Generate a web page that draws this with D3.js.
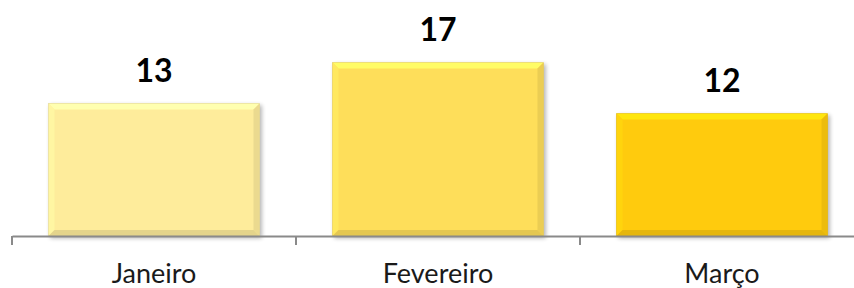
<!DOCTYPE html>
<html><head><meta charset="utf-8">
<script src="https://cdn.jsdelivr.net/npm/d3@7"></script>
<style>html,body{margin:0;padding:0;background:#fff;}svg{display:block;}</style>
</head><body>
<svg id="chart" width="854" height="288"></svg>
<script>
const categories = ["Janeiro", "Fevereiro", "Março"];
const values = [13, 17, 12];
const barColors = ["#FEEC9B", "#FEDE5A", "#FFCB0A"];

const svg = d3.select("#chart");
const baseY = 236;
const x = d3.scaleBand().domain(categories).range([12, 864]).paddingInner(0.257).paddingOuter(0.1285);
const y = d3.scaleLinear().domain([0, 20]).range([baseY, 32]);

const defs = svg.append("defs");
const f = defs.append("filter").attr("id", "shadow").attr("x", "-10%").attr("y", "-10%").attr("width", "120%").attr("height", "120%");
f.append("feGaussianBlur").attr("in", "SourceAlpha").attr("stdDeviation", 2);
f.append("feOffset").attr("dx", 2).attr("dy", 2).attr("result", "ob");
f.append("feComponentTransfer").append("feFuncA").attr("type", "linear").attr("slope", 0.3);
const m = f.append("feMerge");
m.append("feMergeNode");
m.append("feMergeNode").attr("in", "SourceGraphic");

const bev = 6;
const g = svg.append("g");
categories.forEach((c, i) => {
  const x0 = x(c), x1 = x(c) + x.bandwidth(), y0 = y(values[i]), y1 = y(0);
  const base = d3.color(barColors[i]);
  const bg = g.append("g").attr("filter", "url(#shadow)");
  bg.append("rect").attr("x", x0).attr("y", y0).attr("width", x1 - x0).attr("height", y1 - y0).attr("fill", base);
  const faces = [
    {pts: [[x0,y0],[x1,y0],[x1-bev,y0+bev],[x0+bev,y0+bev]], col: base.brighter(0.35)},
    {pts: [[x0,y0],[x0+bev,y0+bev],[x0+bev,y1-bev],[x0,y1]], col: base.brighter(0.12)},
    {pts: [[x1,y0],[x1,y1],[x1-bev,y1-bev],[x1-bev,y0+bev]], col: base.darker(0.22)},
    {pts: [[x0,y1],[x1,y1],[x1-bev,y1-bev],[x0+bev,y1-bev]], col: base.darker(0.3)}
  ];
  faces.forEach(fc => bg.append("polygon").attr("points", fc.pts.map(p => p.join(",")).join(" ")).attr("fill", fc.col));
  bg.append("rect").attr("x", x0).attr("y", y0).attr("width", x1 - x0).attr("height", y1 - y0).attr("fill", "none").attr("stroke", base.darker(0.6)).attr("stroke-width", 0.6).attr("stroke-opacity", 0.5);
});

// axis
const axisG = svg.append("g").attr("transform", `translate(0,${baseY})`);
axisG.call(d3.axisBottom(x).tickSize(0).tickFormat(""));
axisG.select(".domain").attr("stroke", "#8a8a8a").attr("stroke-width", 2);
const step = x.step();
const bounds = d3.range(categories.length + 1).map(i => x.range()[0] + i * step);
axisG.selectAll("line.bt").data(bounds).join("line").attr("class", "bt")
  .attr("x1", d => d).attr("x2", d => d).attr("y1", 0).attr("y2", 9)
  .attr("stroke", "#8a8a8a").attr("stroke-width", 2);

// category labels
svg.selectAll("text.cat").data(categories).join("text").attr("class", "cat")
  .attr("x", d => x(d) + x.bandwidth() / 2).attr("y", 283)
  .attr("text-anchor", "middle").attr("font-family", "Lato, 'Open Sans', sans-serif").attr("font-size", 27).attr("fill", "#1a1a1a")
  .text(d => d);

// value labels
svg.selectAll("text.val").data(values).join("text").attr("class", "val")
  .attr("x", (d, i) => x(categories[i]) + x.bandwidth() / 2).attr("y", d => y(d) - 21.5)
  .attr("text-anchor", "middle").attr("font-family", "Lato, 'Open Sans', sans-serif").attr("font-weight", "bold").attr("font-size", 32).attr("fill", "#000")
  .text(d => d);
</script>
</body></html>
